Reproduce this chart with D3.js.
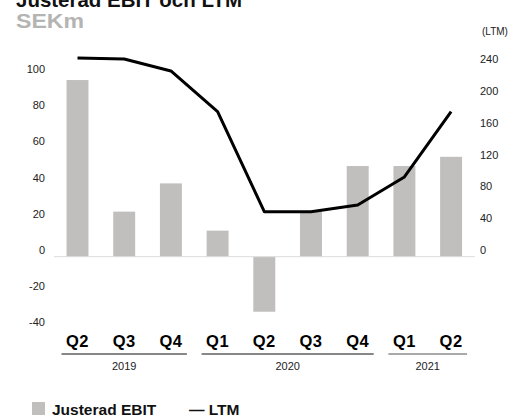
<!DOCTYPE html>
<html>
<head>
<meta charset="utf-8">
<style>
  body { margin: 0; background: #fff; }
  text { font-family: "Liberation Sans", Arial, sans-serif; }
</style>
</head>
<body>
<svg width="510" height="417"></svg>
<script src="https://d3js.org/d3.v7.min.js"></script>
<script>

// data
let quarters = ["Q2", "Q3", "Q4", "Q1", "Q2", "Q3", "Q4", "Q1", "Q2"]
let ebit = [97.6, 24.9, 40.5, 14.4, -30.4, 24.9, 50.1, 50.1, 55.2]
let ltm = [250, 248.6, 233.6, 182.4, 56.6, 56.6, 65, 100.3, 182.4]
let years = ["2019", "2020", "2021"]
let yearSpans = [[0, 2], [3, 6], [7, 8]]
let leftTicks = [-40, -20, 0, 20, 40, 60, 80, 100]
let rightTicks = [0, 40, 80, 120, 160, 200, 240]

let svg = d3.select("svg")

let x = d3.scaleBand()
    .domain(d3.range(quarters.length))
    .range([54.15, 474.45])
    .paddingInner(0.53)
    .paddingOuter(0.265)

// left axis (EBIT)
let y = d3.scaleLinear().domain([0, 100]).range([256.7, 75.7])
// right axis (LTM)
let y2 = d3.scaleLinear().domain([0, 240]).range([256.7, 65.9])

let cx = i => x(i) + x.bandwidth() / 2

// title
svg.append("text")
    .attr("x", 16).attr("y", 7)
    .attr("font-size", 20).attr("font-weight", "bold")
    .attr("textLength", 226).attr("lengthAdjust", "spacingAndGlyphs")
    .attr("fill", "#111")
    .text("Justerad EBIT och LTM")

svg.append("text")
    .attr("x", 16).attr("y", 27.5)
    .attr("font-size", 20).attr("font-weight", "bold")
    .attr("textLength", 68).attr("lengthAdjust", "spacingAndGlyphs")
    .attr("fill", "#b4b4b2")
    .text("SEKm")

svg.append("text")
    .attr("x", 482).attr("y", 35)
    .attr("font-size", 10).attr("fill", "#222")
    .text("(LTM)")

// left tick labels
svg.append("g").selectAll("text")
    .data(leftTicks)
    .enter()
    .append("text")
    .attr("x", 45)
    .attr("y", d => y(d) - 2.7)
    .attr("text-anchor", "end")
    .attr("font-size", 11)
    .attr("fill", "#222")
    .text(d => d)

// right tick labels
svg.append("g").selectAll("text")
    .data(rightTicks)
    .enter()
    .append("text")
    .attr("x", 480)
    .attr("y", d => y2(d) - 2.7)
    .attr("font-size", 11)
    .attr("fill", "#222")
    .text(d => d)

// bars
svg.append("g").selectAll("rect")
    .data(ebit)
    .enter()
    .append("rect")
    .attr("x", (d, i) => x(i))
    .attr("width", x.bandwidth())
    .attr("y", d => Math.min(y(d), y(0)))
    .attr("height", d => Math.abs(y(d) - y(0)))
    .attr("fill", "#c0bfbd")

// zero line
svg.append("line")
    .attr("x1", 54).attr("x2", 475)
    .attr("y1", y(0)).attr("y2", y(0))
    .attr("stroke", "#dcdcdc")
    .attr("stroke-width", 1)

// LTM line
let line = d3.line()
    .x((d, i) => cx(i))
    .y(d => y2(d))

svg.append("path")
    .datum(ltm)
    .attr("d", line)
    .attr("fill", "none")
    .attr("stroke", "#000")
    .attr("stroke-width", 3)
    .attr("stroke-linejoin", "round")

// quarter labels
svg.append("g").selectAll("text")
    .data(quarters)
    .enter()
    .append("text")
    .attr("x", (d, i) => cx(i))
    .attr("y", 346.5)
    .attr("text-anchor", "middle")
    .attr("font-size", 16.5)
    .attr("font-weight", "bold")
    .attr("letter-spacing", 0.5)
    .attr("fill", "#000")
    .text(d => d)

// year groups
let yg = svg.append("g")
yearSpans.forEach((s, k) => {
    yg.append("line")
        .attr("x1", cx(s[0]) - 16).attr("x2", cx(s[1]) + 16)
        .attr("y1", 354).attr("y2", 354)
        .attr("stroke", k == 2 ? "#555" : "#111")
        .attr("stroke-width", 1.2)
    yg.append("text")
        .attr("x", (cx(s[0]) + cx(s[1])) / 2)
        .attr("y", 369.5)
        .attr("text-anchor", "middle")
        .attr("font-size", 11)
        .attr("fill", "#222")
        .text(years[k])
})

// legend
svg.append("rect")
    .attr("x", 32).attr("y", 402)
    .attr("width", 13).attr("height", 13)
    .attr("fill", "#c0bfbd")
svg.append("text")
    .attr("x", 52).attr("y", 414.5)
    .attr("font-size", 15.5).attr("font-weight", "bold")
    .attr("fill", "#111")
    .text("Justerad EBIT")
svg.append("text")
    .attr("x", 189).attr("y", 414.5)
    .attr("font-size", 15.5).attr("font-weight", "bold")
    .attr("fill", "#111")
    .text("— LTM")
</script>
</body>
</html>
